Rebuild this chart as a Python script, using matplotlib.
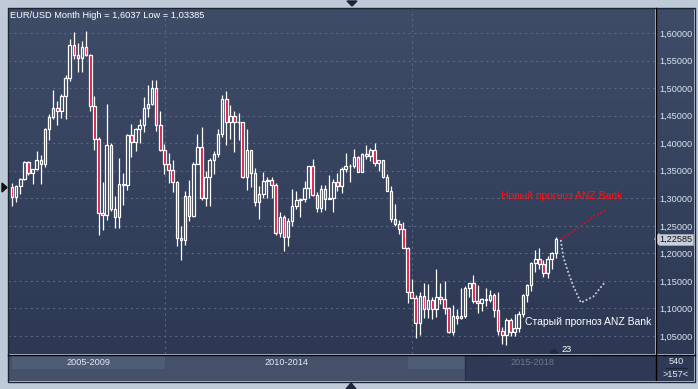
import numpy as np
import pandas as pd
import matplotlib
matplotlib.use('Agg')
import matplotlib.pyplot as plt
from matplotlib.patches import Rectangle, Polygon
from matplotlib.ticker import FuncFormatter

plt.rcParams['font.family'] = ['Liberation Sans', 'DejaVu Sans']

# monthly EUR/USD candles, Jan 2007 .. Jan 2018
months = pd.date_range('2007-01-01', '2018-01-01', freq='MS')
opens = [
    1.3200, 1.3025, 1.3225, 1.3355, 1.3655, 1.3455, 1.3535, 1.3690, 1.3630, 1.4265, 1.4480, 1.4630,
    1.4590, 1.4860, 1.5180, 1.5780, 1.5600, 1.5545, 1.5750, 1.5600, 1.4680, 1.4080, 1.2730, 1.2700,
    1.3970, 1.2800, 1.2665, 1.3250, 1.3240, 1.4150, 1.4030, 1.4250, 1.4330, 1.4640, 1.4720, 1.5000,
    1.4330, 1.3870, 1.3630, 1.3510, 1.3295, 1.2270, 1.2235, 1.3050, 1.2680, 1.3630, 1.3930, 1.3000,
    1.3380, 1.3700, 1.3810, 1.4160, 1.4810, 1.4390, 1.4500, 1.4390, 1.4380, 1.3380, 1.3870, 1.3450,
    1.2940, 1.3080, 1.3320, 1.3340, 1.3240, 1.2370, 1.2665, 1.2300, 1.2580, 1.2860, 1.2960, 1.2990,
    1.3190, 1.3580, 1.3060, 1.2820, 1.3170, 1.2990, 1.3010, 1.3300, 1.3220, 1.3525, 1.3580, 1.3590,
    1.3745, 1.3485, 1.3805, 1.3770, 1.3870, 1.3635, 1.3690, 1.3390, 1.3130, 1.2630, 1.2525, 1.2450,
    1.2100, 1.1290, 1.1195, 1.0730, 1.1220, 1.0990, 1.1150, 1.0985, 1.1215, 1.1180, 1.1005, 1.0565,
    1.0865, 1.0830, 1.0870, 1.1380, 1.1455, 1.1130, 1.1105, 1.1175, 1.1155, 1.1240, 1.0980, 1.0590,
    1.0520, 1.0795, 1.0575, 1.0650, 1.0895, 1.1240, 1.1425, 1.1830, 1.1905, 1.1815, 1.1645, 1.1905,
    1.2005,
]
highs = [
    1.3270, 1.3245, 1.3370, 1.3680, 1.3680, 1.3540, 1.3850, 1.3790, 1.4280, 1.4530, 1.4970, 1.4770,
    1.4900, 1.5240, 1.5900, 1.6020, 1.5820, 1.5850, 1.6038, 1.5620, 1.4865, 1.4120, 1.3300, 1.4720,
    1.4000, 1.3045, 1.3740, 1.3450, 1.4160, 1.4340, 1.4280, 1.4445, 1.4845, 1.5060, 1.5145, 1.5140,
    1.4580, 1.3990, 1.3820, 1.3690, 1.3320, 1.2490, 1.3140, 1.3335, 1.3650, 1.4160, 1.4285, 1.3500,
    1.3740, 1.3860, 1.4250, 1.4880, 1.4940, 1.4700, 1.4580, 1.4550, 1.4390, 1.4250, 1.3870, 1.3550,
    1.3230, 1.3485, 1.3385, 1.3380, 1.3280, 1.2750, 1.2690, 1.2640, 1.3170, 1.3140, 1.3010, 1.3310,
    1.3585, 1.3710, 1.3110, 1.3240, 1.3245, 1.3415, 1.3345, 1.3450, 1.3570, 1.3830, 1.3620, 1.3895,
    1.3775, 1.3825, 1.3965, 1.3905, 1.3995, 1.3700, 1.3700, 1.3445, 1.3220, 1.2890, 1.2600, 1.2570,
    1.2120, 1.1535, 1.1240, 1.1290, 1.1465, 1.1435, 1.1215, 1.1715, 1.1460, 1.1495, 1.1020, 1.1060,
    1.0990, 1.1375, 1.1400, 1.1465, 1.1615, 1.1425, 1.1185, 1.1365, 1.1330, 1.1280, 1.1300, 1.0670,
    1.0830, 1.0830, 1.0905, 1.0950, 1.1265, 1.1445, 1.1850, 1.2070, 1.2090, 1.1880, 1.1960, 1.2025,
    1.2303,
]
lows = [
    1.2866, 1.2935, 1.3075, 1.3340, 1.3420, 1.3260, 1.3520, 1.3260, 1.3560, 1.4060, 1.4435, 1.4335,
    1.4460, 1.4440, 1.5130, 1.5520, 1.5285, 1.5300, 1.5590, 1.4580, 1.3880, 1.2330, 1.2420, 1.2600,
    1.2760, 1.2460, 1.2455, 1.2885, 1.3150, 1.3750, 1.3850, 1.4000, 1.4200, 1.4480, 1.4700, 1.4220,
    1.3860, 1.3435, 1.3270, 1.3110, 1.2140, 1.1875, 1.2150, 1.2590, 1.2660, 1.3620, 1.2970, 1.2860,
    1.2860, 1.3440, 1.3750, 1.4110, 1.3970, 1.4070, 1.3840, 1.4050, 1.3360, 1.3145, 1.3210, 1.2860,
    1.2625, 1.3010, 1.3000, 1.3000, 1.2335, 1.2290, 1.2040, 1.2130, 1.2500, 1.2800, 1.2660, 1.2930,
    1.3000, 1.3040, 1.2750, 1.2745, 1.2795, 1.2990, 1.2755, 1.3130, 1.3100, 1.3480, 1.3295, 1.3545,
    1.3480, 1.3480, 1.3705, 1.3675, 1.3590, 1.3500, 1.3375, 1.3150, 1.2570, 1.2500, 1.2360, 1.2100,
    1.1100, 1.1195, 1.0460, 1.0520, 1.0820, 1.0820, 1.0810, 1.0845, 1.1085, 1.0895, 1.0560, 1.0525,
    1.0710, 1.0810, 1.0820, 1.1215, 1.1095, 1.0910, 1.0950, 1.1045, 1.1120, 1.0850, 1.0515, 1.0350,
    1.0340, 1.0495, 1.0495, 1.0570, 1.0840, 1.1120, 1.1310, 1.1660, 1.1720, 1.1575, 1.1555, 1.1720,
    1.1915,
]
closes = [
    1.3025, 1.3225, 1.3355, 1.3655, 1.3455, 1.3535, 1.3690, 1.3630, 1.4265, 1.4480, 1.4630, 1.4590,
    1.4860, 1.5180, 1.5780, 1.5600, 1.5545, 1.5750, 1.5600, 1.4680, 1.4080, 1.2730, 1.2700, 1.3970,
    1.2800, 1.2665, 1.3250, 1.3240, 1.4150, 1.4030, 1.4250, 1.4330, 1.4640, 1.4720, 1.5000, 1.4330,
    1.3870, 1.3630, 1.3510, 1.3295, 1.2270, 1.2235, 1.3050, 1.2680, 1.3630, 1.3930, 1.3000, 1.3380,
    1.3700, 1.3810, 1.4160, 1.4810, 1.4390, 1.4500, 1.4390, 1.4380, 1.3380, 1.3870, 1.3450, 1.2940,
    1.3080, 1.3320, 1.3340, 1.3240, 1.2370, 1.2665, 1.2300, 1.2580, 1.2860, 1.2960, 1.2990, 1.3190,
    1.3580, 1.3060, 1.2820, 1.3170, 1.2990, 1.3010, 1.3300, 1.3220, 1.3525, 1.3580, 1.3590, 1.3745,
    1.3485, 1.3805, 1.3770, 1.3870, 1.3635, 1.3690, 1.3390, 1.3130, 1.2630, 1.2525, 1.2450, 1.2100,
    1.1290, 1.1195, 1.0730, 1.1220, 1.0990, 1.1150, 1.0985, 1.1215, 1.1180, 1.1005, 1.0565, 1.0865,
    1.0830, 1.0870, 1.1380, 1.1455, 1.1130, 1.1105, 1.1175, 1.1155, 1.1240, 1.0980, 1.0590, 1.0520,
    1.0795, 1.0575, 1.0650, 1.0895, 1.1240, 1.1425, 1.1830, 1.1905, 1.1815, 1.1645, 1.1905, 1.2005,
    1.22585,
]

# forecasts, x in months counted from Jan 2007
new_fc_x = [133.2, 137.9, 141.1, 144.2]
new_fc_y = [1.2261, 1.2485, 1.2667, 1.2788]
old_fc_x = [133.2, 133.8, 134.8, 136.3, 138.1, 141.1, 143.9]
old_fc_y = [1.2243, 1.1940, 1.1700, 1.1395, 1.1105, 1.1216, 1.1475]

price_ticks = [1.05, 1.10, 1.15, 1.20, 1.25, 1.30, 1.35, 1.40, 1.45, 1.50, 1.55, 1.60]
period_labels = ['2005-2009', '2010-2014', '2015-2018']
last_price = closes[-1]

W, H = 698, 389


def fx(x):
    return x / W


def fy(y):
    return 1 - y / H


def box(x0, y0, x1, y1):
    return [fx(x0), fy(y1), fx(x1) - fx(x0), fy(y0) - fy(y1)]


fig = plt.figure(figsize=(W / 100, H / 100), dpi=100, facecolor='#bfcad9')

grad = np.linspace(0, 1, 256).reshape(-1, 1)
top_c = np.array([0x3f, 0x4c, 0x67]) / 255
bot_c = np.array([0x2c, 0x38, 0x54]) / 255
grad_img = top_c * (1 - grad[..., None]) + bot_c * grad[..., None]

# right price panel (behind the main axes so the tick labels show)
rp = fig.add_axes(box(656, 8, 694, 354), zorder=0)
rp.imshow(grad_img, extent=[0, 1, 0, 1], aspect='auto')
rp.axis('off')

# main chart
ax = fig.add_axes(box(8, 8, 655, 354), zorder=1)
ax.imshow(grad_img, extent=[0, 1, 0, 1], transform=ax.transAxes, aspect='auto', zorder=0)
ax.set_xlim(-0.97, 156.07)
ax.set_ylim(1.0173, 1.6454)
for s in ax.spines.values():
    s.set_visible(False)
ax.set_xticks([])
ax.yaxis.tick_right()
ax.set_yticks(price_ticks)
ax.yaxis.set_major_formatter(FuncFormatter(lambda v, p: f'{v:.5f}'.replace('.', ',')))
ax.tick_params(axis='y', length=0, pad=3, labelsize=6.6, labelcolor='#dce6f4')

for p in price_ticks:
    ax.axhline(p, color='#5a667e', lw=0.8, ls=(0, (2, 3)), zorder=1)
for xv in [37.1, 97.1]:
    ax.axvline(xv, color='#5a667e', lw=0.8, ls=(0, (2, 3)), zorder=1)

idx = np.arange(len(months))
o = np.array(opens)
c = np.array(closes)
hi = np.array(highs)
lo = np.array(lows)
top = np.maximum(o, c)
bot = np.minimum(o, c)
ax.vlines(idx, top, hi, color='white', lw=0.9, zorder=3)
ax.vlines(idx, lo, bot, color='white', lw=0.9, zorder=3)
bw = 0.62
for i in idx:
    fc = '#e0103c' if c[i] < o[i] else 'none'
    ax.add_patch(Rectangle((i - bw / 2, bot[i]), bw, max(top[i] - bot[i], 0.0006),
                           facecolor=fc, edgecolor='white', lw=0.9, zorder=4))

ax.plot(new_fc_x, new_fc_y, color='#c8142c', lw=1.3, ls=(0, (1, 1.2)), zorder=5)
ax.plot(old_fc_x, old_fc_y, color='#c6cfdc', lw=1.3, ls=(0, (1, 1.2)), zorder=5)
ax.text(118.7, 1.3042, 'Новый прогноз ANZ Bank', color='#ff1414', fontsize=7.5,
        ha='left', va='center', zorder=6)
ax.text(124.5, 1.0755, 'Старый прогноз ANZ Bank', color='white', fontsize=7.5,
        ha='left', va='center', zorder=6)

# bottom navigator bar
nav = fig.add_axes(box(8, 355, 694, 381), zorder=1)
nav.set_xlim(8, 694)
nav.set_ylim(381, 355)
nav.axis('off')
nav.add_patch(Rectangle((8, 355), 647, 26, facecolor='#445169', lw=0))
nav.add_patch(Rectangle((465, 355), 190, 26, facecolor='#2e3a55', lw=0))
nav.add_patch(Rectangle((12, 356), 153, 13, facecolor='#4e5c75', lw=0))
nav.add_patch(Rectangle((408, 356), 57, 13, facecolor='#4e5c75', lw=0))
nav.add_patch(Rectangle((655, 355), 39, 26, facecolor='#2f3b56', lw=0))
nav.plot([464.5, 464.5], [355, 381], color='#262f44', lw=1)
nav.plot([655.5, 655.5], [355, 381], color='black', lw=1)
nav.plot([666, 687], [368, 368], color='#1c2436', lw=1)
for lab, xc, col in zip(period_labels, [88, 286, 532], ['#e4ebf4', '#e4ebf4', '#6c778c']):
    nav.text(xc, 362.5, lab, color=col, fontsize=6.6, ha='center', va='center')
nav.text(676, 362, '540', color='#e4ebf4', fontsize=6.6, ha='center', va='center')
nav.text(676, 374.5, '>157<', color='#e4ebf4', fontsize=6.6, ha='center', va='center')

# overlay for frame lines, markers and labels in pixel coords
ov = fig.add_axes([0, 0, 1, 1], facecolor='none', zorder=2)
ov.set_xlim(0, W)
ov.set_ylim(H, 0)
ov.axis('off')
ov.add_patch(Rectangle((7.5, 7.5), 687, 374, fill=False, edgecolor='#1c2436', lw=1))
ov.plot([7.5, 694.5], [354.5, 354.5], color='black', lw=1)
ov.plot([655.5, 655.5], [8, 354.5], color='black', lw=1)
ov.add_patch(Polygon([(347, 1), (357, 1), (352, 6)], closed=True, color='#1c2638'))
ov.add_patch(Polygon([(346, 389), (356, 389), (351, 383)], closed=True, color='#1c2638'))
ov.add_patch(Polygon([(2, 183), (2, 192), (7, 187.5)], closed=True, color='#111111'))
ov.add_patch(Polygon([(550, 353), (558, 353), (554, 349)], closed=True, color='#1f2a3f'))
ov.text(567, 349, '23', color='white', fontsize=6.6, ha='center', va='center')
ov.text(10, 15, 'EUR/USD Month High = 1,6037 Low = 1,03385', color='white', fontsize=6.7,
        ha='left', va='center')

# current price marker
py = 33 + (1.60 - last_price) * 551
ov.add_patch(Rectangle((659, py - 5.5), 34, 11, facecolor='#c9d1dc', edgecolor='#9aa5b5', lw=0.6))
ov.add_patch(Polygon([(655, py), (659, py - 5.5), (659, py + 5.5)], closed=True, color='#c9d1dc'))
ov.text(676, py, f'{last_price:.5f}'.replace('.', ','), color='#111111', fontsize=6.6,
        ha='center', va='center')

fig.savefig('out.png', dpi=100, facecolor=fig.get_facecolor())
